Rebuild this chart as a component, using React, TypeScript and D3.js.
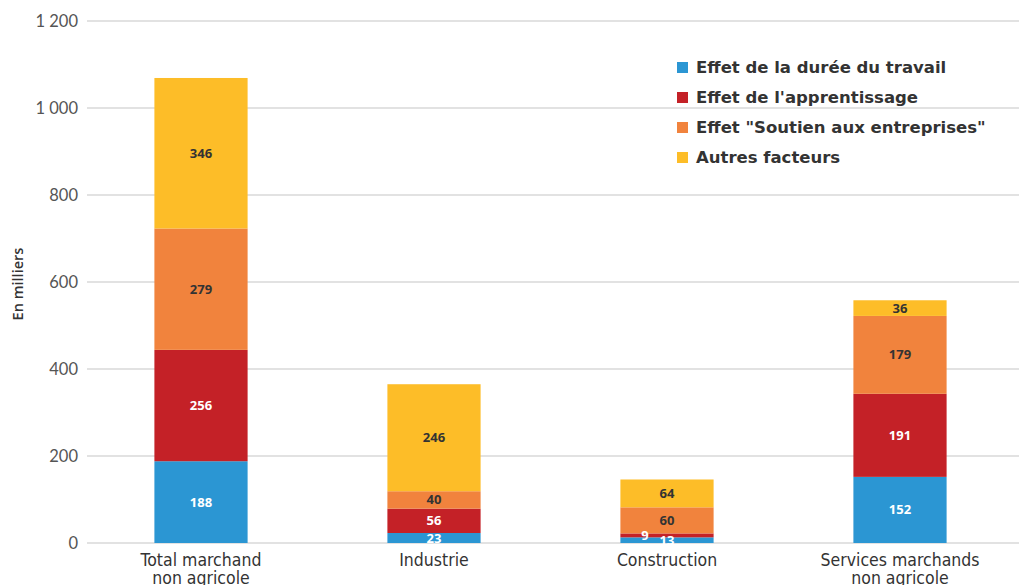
import React, { useEffect, useRef } from 'react';
import * as d3 from 'd3';

const categories = ['Total marchand|non agricole', 'Industrie', 'Construction', 'Services marchands|non agricole'];
const seriesNames = [
  'Effet de la durée du travail',
  "Effet de l'apprentissage",
  'Effet "Soutien aux entreprises"',
  'Autres facteurs',
];
const dureeTravail = [188, 23, 13, 152];
const apprentissage = [256, 56, 9, 191];
const soutien = [279, 40, 60, 179];
const autres = [346, 246, 64, 36];
const yTicks = [0, 200, 400, 600, 800, 1000, 1200];

const colors = ['#2b96d3', '#c42127', '#f1833d', '#fdbd28'];
const labelColors = ['#ffffff', '#ffffff', '#333333', '#333333'];

export default function App() {
  const ref = useRef<SVGSVGElement>(null);

  useEffect(() => {
    const svg = d3.select(ref.current);
    svg.selectAll('*').remove();

    const width = 1019, height = 585;
    const y = d3.scaleLinear().domain([0, 1200]).range([543, 21]);
    const x = d3.scaleBand().domain(categories).range([84.5, 1016.5]).paddingInner(0.6).paddingOuter(0.3);

    const values = [dureeTravail, apprentissage, soutien, autres];
    const rows = categories.map((c, i) => {
      const r: any = { cat: c };
      seriesNames.forEach((s, k) => (r[s] = values[k][i]));
      return r;
    });
    const stacked = d3.stack().keys(seriesNames)(rows);

    // grid
    svg.append('g')
      .selectAll('line')
      .data(yTicks)
      .enter()
      .append('line')
      .attr('x1', 87)
      .attr('x2', width)
      .attr('y1', d => y(d))
      .attr('y2', d => y(d))
      .attr('stroke', '#d9d9d9')
      .attr('stroke-width', 1.5);

    svg.append('g')
      .selectAll('text')
      .data(yTicks)
      .enter()
      .append('text')
      .attr('x', 78)
      .attr('y', d => y(d))
      .attr('dy', '0.35em')
      .attr('text-anchor', 'end')
      .attr('font-family', 'Lato, "Noto Sans", sans-serif')
      .attr('font-size', 16.5)
      .attr('fill', '#555')
      .text(d => d3.format(',')(d).replace(',', ' '));

    svg.append('text')
      .attr('transform', 'translate(23,284) rotate(-90)')
      .attr('text-anchor', 'middle')
      .attr('font-family', '"Open Sans", Lato, sans-serif')
      .attr('font-size', 14.5)
      .attr('font-weight', 600)
      .attr('fill', '#333')
      .text('En milliers');

    // bars
    const layers = svg.append('g')
      .selectAll('g')
      .data(stacked)
      .enter()
      .append('g')
      .attr('fill', (d, i) => colors[i]);

    layers.selectAll('rect')
      .data(d => d)
      .enter()
      .append('rect')
      .attr('x', (d: any) => x(d.data.cat)!)
      .attr('width', x.bandwidth())
      .attr('y', d => y(d[1]))
      .attr('height', d => y(d[0]) - y(d[1]));

    // labels
    stacked.forEach((layer, k) => {
      svg.append('g')
        .selectAll('text')
        .data(layer)
        .enter()
        .append('text')
        .attr('x', (d: any) => {
          const cx = x(d.data.cat)! + x.bandwidth() / 2;
          return y(d[0]) - y(d[1]) < 8 && k > 0 ? cx - 22 : cx;
        })
        .attr('y', (d: any) => (y(d[0]) + y(d[1])) / 2)
        .attr('dy', '0.35em')
        .attr('text-anchor', 'middle')
        .attr('font-family', '"Open Sans", Lato, sans-serif')
        .attr('font-weight', 'bold')
        .attr('font-size', 13)
        .attr('fill', labelColors[k])
        .text((d: any) => d[1] - d[0]);
    });

    // category labels
    const cats = svg.append('g')
      .selectAll('text')
      .data(categories)
      .enter()
      .append('text')
      .attr('x', d => x(d)! + x.bandwidth() / 2)
      .attr('y', 566)
      .attr('text-anchor', 'middle')
      .attr('font-family', '"Liberation Sans Narrow", "DejaVu Sans Condensed", sans-serif')
      .attr('font-size', 17.5)
      .attr('fill', '#333');
    cats.each(function (d) {
      const t = d3.select(this);
      d.split('|').forEach((line, i) => {
        t.append('tspan')
          .attr('x', x(d)! + x.bandwidth() / 2)
          .attr('dy', i === 0 ? 0 : 18)
          .text(line);
      });
    });

    // legend
    const legend = svg.append('g')
      .selectAll('g')
      .data(seriesNames)
      .enter()
      .append('g')
      .attr('transform', (d, i) => 'translate(677,' + (67 + i * 30) + ')');
    legend.append('rect')
      .attr('x', 0)
      .attr('y', -5)
      .attr('width', 11)
      .attr('height', 11)
      .attr('fill', (d, i) => colors[i]);
    legend.append('text')
      .attr('x', 19)
      .attr('dy', '0.35em')
      .attr('font-family', '"DejaVu Sans", "Open Sans", sans-serif')
      .attr('font-weight', 'bold')
      .attr('font-size', 16.5)
      .attr('fill', '#333')
      .text(d => d);
  }, []);

  return (
    <svg ref={ref} width={1019} height={585} style={{ position: 'absolute', left: 0, top: 0, background: '#fff' }} />
  );
}
